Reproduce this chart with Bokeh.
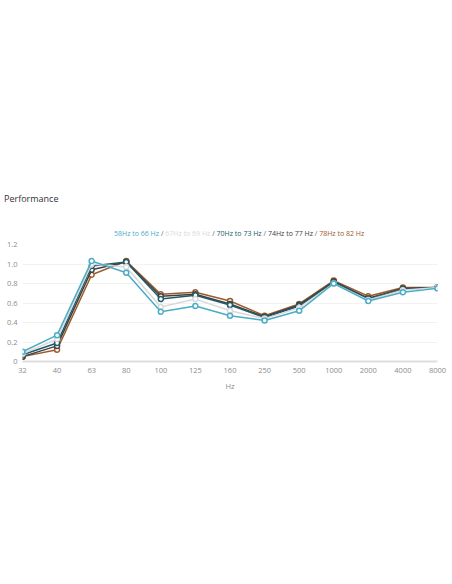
from bokeh.plotting import figure
from bokeh.models import Div, FixedTicker, PrintfTickFormatter
from bokeh.layouts import column
from bokeh.embed import file_html
from bokeh.resources import INLINE

freqs = ["32", "40", "63", "80", "100", "125", "160", "250", "500", "1000", "2000", "4000", "8000"]

s58_66 = [0.10, 0.27, 1.03, 0.91, 0.51, 0.57, 0.47, 0.42, 0.52, 0.80, 0.62, 0.71, 0.75]
s67_69 = [0.08, 0.23, 1.00, 0.97, 0.56, 0.64, 0.52, 0.44, 0.55, 0.80, 0.63, 0.73, 0.76]
s70_73 = [0.07, 0.19, 0.98, 1.02, 0.64, 0.68, 0.58, 0.45, 0.57, 0.81, 0.64, 0.74, 0.76]
s74_77 = [0.05, 0.16, 0.94, 1.02, 0.67, 0.69, 0.59, 0.46, 0.58, 0.82, 0.65, 0.75, 0.76]
s78_82 = [0.05, 0.12, 0.89, 1.03, 0.69, 0.71, 0.62, 0.47, 0.59, 0.83, 0.67, 0.76, 0.76]

series_names = ["58Hz to 66 Hz", "67Hz to 69 Hz", "70Hz to 73 Hz", "74Hz to 77 Hz", "78Hz to 82 Hz"]
series_vals = [s58_66, s67_69, s70_73, s74_77, s78_82]
colors = ["#4bacc6", "#d9d9d9", "#215a69", "#404040", "#9a5a2a"]

FONT = "Open Sans"
xs = list(range(len(freqs)))

title = Div(text=f'<div style="font-family:\'{FONT}\';font-size:9px;line-height:12px;'
                 f'color:#333333;white-space:nowrap;padding-left:4px;">Performance</div>',
            width=452, height=12, margin=(190, 0, 0, 0))

spans = ' <span style="color:#666666;">/</span> '.join(
    f'<span style="color:{c};">{n}</span>' for n, c in zip(series_names, colors))
legend = Div(text=f'<div style="font-family:\'{FONT}\';font-size:7px;line-height:14px;'
                  f'white-space:nowrap;padding-left:114px;">{spans}</div>',
             width=452, height=14, margin=(22, 0, 0, 0))

p = figure(width=452, height=162, output_backend="svg", toolbar_location=None,
           x_range=(0, len(freqs) - 1), y_range=(0, 1.2),
           min_border_left=22, min_border_right=15, min_border_top=6, min_border_bottom=39)
p.margin = (0, 0, 0, 0)
p.outline_line_color = None
p.background_fill_color = "white"
p.border_fill_color = "white"

p.xgrid.grid_line_color = None
p.ygrid.grid_line_color = "#f2f2f2"
p.ygrid.ticker = FixedTicker(ticks=[0.2, 0.4, 0.6, 0.8, 1.0, 1.2])

p.xaxis.ticker = FixedTicker(ticks=xs)
p.xaxis.major_label_overrides = {i: f for i, f in enumerate(freqs)}
p.xaxis.axis_line_color = "#dedede"
p.xaxis.axis_line_width = 2
p.xaxis.major_tick_line_color = None
p.xaxis.minor_tick_line_color = None
p.xaxis.major_tick_out = 0
p.xaxis.major_tick_in = 0
p.xaxis.major_label_text_color = "#8c8c8c"
p.xaxis.major_label_text_font = FONT
p.xaxis.major_label_text_font_size = "7.5px"
p.xaxis.major_label_standoff = 6
p.xaxis.axis_label = "Hz"
p.xaxis.axis_label_text_color = "#8c8c8c"
p.xaxis.axis_label_text_font = FONT
p.xaxis.axis_label_text_font_size = "7.5px"
p.xaxis.axis_label_text_font_style = "normal"
p.xaxis.axis_label_standoff = 5

p.yaxis.ticker = FixedTicker(ticks=[0, 0.2, 0.4, 0.6, 0.8, 1.0, 1.2])
p.yaxis.formatter = PrintfTickFormatter(format="%.1f")
p.yaxis.major_label_overrides = {0: "0"}
p.yaxis.axis_line_color = None
p.yaxis.major_tick_line_color = None
p.yaxis.minor_tick_line_color = None
p.yaxis.major_tick_out = 0
p.yaxis.major_tick_in = 0
p.yaxis.major_label_text_color = "#8c8c8c"
p.yaxis.major_label_text_font = FONT
p.yaxis.major_label_text_font_size = "7.5px"
p.yaxis.major_label_standoff = 5

for vals, c in reversed(list(zip(series_vals, colors))):
    p.line(xs, vals, line_color=c, line_width=1.5)
    p.scatter(xs, vals, size=5, marker="circle", line_color=c, line_width=1.5,
              fill_color="white")

layout = column(title, legend, p, spacing=0)

open("out.html", "w").write(file_html(layout, INLINE))
